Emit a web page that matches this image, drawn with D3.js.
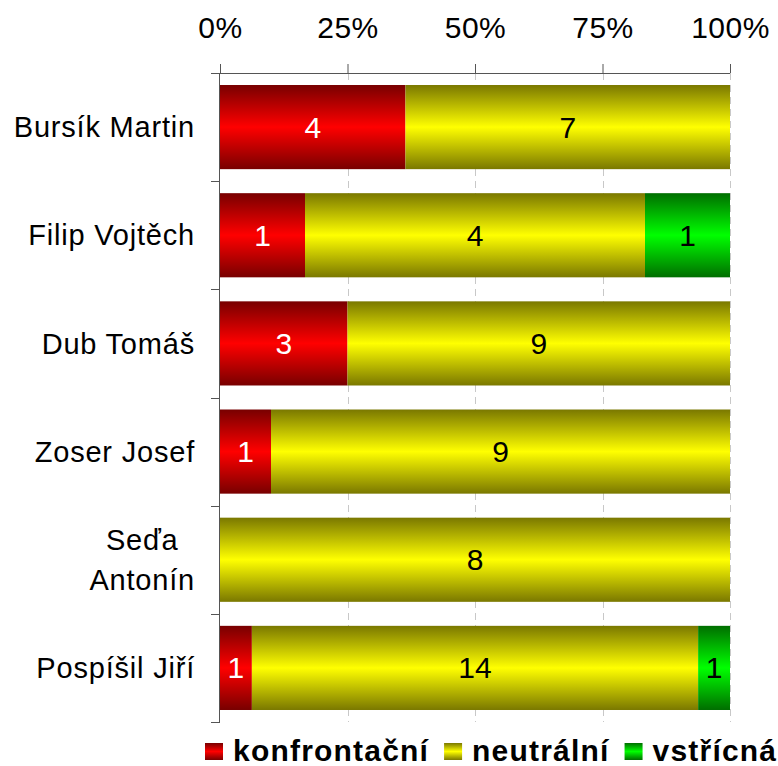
<!DOCTYPE html>
<html>
<head>
<meta charset="utf-8">
<script src="https://cdn.jsdelivr.net/npm/d3@7/dist/d3.min.js"></script>
<style>
  body { margin: 0; background: #fff; }
  svg { display: block; font-family: "Liberation Sans", Arial, sans-serif; }
</style>
</head>
<body>
<svg id="chart" width="778" height="766"></svg>
<script>
const categories = ['Bursík Martin', 'Filip Vojtěch', 'Dub Tomáš', 'Zoser Josef', 'Seďa\nAntonín', 'Pospíšil Jiří'];
const seriesNames = ['konfrontační', 'neutrální', 'vstřícná'];
const konfrontacni = [4, 1, 3, 1, 0, 1];
const neutralni = [7, 4, 9, 9, 8, 14];
const vstricna = [0, 1, 0, 0, 0, 1];
const tickValues = [0, 0.25, 0.5, 0.75, 1];

// dark edge / bright middle for each series
const colors = [
  { dark: '#780000', bright: '#ff0000', text: '#fff' },
  { dark: '#7a7800', bright: '#ffff00', text: '#000' },
  { dark: '#006e00', bright: '#00ff00', text: '#000' }
];

const rows = categories.map((c, i) => ({
  name: c,
  s0: konfrontacni[i],
  s1: neutralni[i],
  s2: vstricna[i]
}));

const svg = d3.select('#chart');
const margin = { top: 73, left: 220, right: 48, bottom: 44 };
const width = 778 - margin.left - margin.right;
const height = 766 - margin.top - margin.bottom;

const defs = svg.append('defs');
colors.forEach((c, i) => {
  const g = defs.append('linearGradient').attr('id', 'grad' + i)
    .attr('x1', 0).attr('y1', 0).attr('x2', 0).attr('y2', 1);
  g.append('stop').attr('offset', '0%').attr('stop-color', c.dark);
  g.append('stop').attr('offset', '50%').attr('stop-color', c.bright);
  g.append('stop').attr('offset', '100%').attr('stop-color', c.dark);
});

const x = d3.scaleLinear().domain([0, 1]).range([0, width]);
const y = d3.scaleBand().domain(categories).range([0, height]).paddingInner(0.222).paddingOuter(0.111);

const stack = d3.stack().keys(['s0', 's1', 's2']).offset(d3.stackOffsetExpand);
const series = stack(rows);

const plot = svg.append('g').attr('transform', `translate(${margin.left},${margin.top})`);

// dashed gridlines
plot.append('g').selectAll('line').data(tickValues.slice(1)).join('line')
  .attr('x1', d => Math.round(x(d)) + 0.5).attr('x2', d => Math.round(x(d)) + 0.5)
  .attr('y1', 0).attr('y2', height)
  .attr('stroke', '#c8c8c8').attr('stroke-dasharray', '7,5');

// bars
const layer = plot.append('g').selectAll('g').data(series).join('g')
  .attr('fill', (d, i) => `url(#grad${i})`);

layer.selectAll('rect').data(d => d).join('rect')
  .attr('x', d => x(d[0]))
  .attr('y', d => y(d.data.name))
  .attr('width', d => x(d[1]) - x(d[0]))
  .attr('height', y.bandwidth());

// value labels
series.forEach((s, i) => {
  plot.append('g').selectAll('text').data(s.filter(d => d.data[s.key] > 0)).join('text')
    .attr('x', d => (x(d[0]) + x(d[1])) / 2)
    .attr('y', d => y(d.data.name) + y.bandwidth() / 2)
    .attr('dy', '0.35em')
    .attr('text-anchor', 'middle')
    .attr('font-size', 30)
    .attr('fill', colors[i].text)
    .text(d => d.data[s.key]);
});

// top axis
const xAxis = plot.append('g')
  .call(d3.axisTop(x).tickValues(tickValues).tickFormat(d3.format('.0%')).tickSize(9).tickSizeOuter(0).tickPadding(26));
xAxis.select('.domain').attr('stroke', '#555').attr('d', `M-9,0.5H${width}`);
xAxis.selectAll('.tick line').attr('stroke', '#555');
xAxis.selectAll('.tick text').attr('font-size', 30).attr('letter-spacing', 0.5).attr('fill', '#000')
  .attr('font-family', '"Liberation Sans", Arial, sans-serif');

// left axis
const bandEdges = categories.map(c => y(c) - y.step() * y.paddingInner() / 2).concat([height]);
const yAxisG = plot.append('g');
yAxisG.append('line').attr('x1', -0.5).attr('x2', -0.5).attr('y1', 0).attr('y2', height).attr('stroke', '#555');
yAxisG.selectAll('line.tk').data(bandEdges.slice(1)).join('line').attr('class', 'tk')
  .attr('x1', -9).attr('x2', 0).attr('y1', d => Math.round(d) + 0.5).attr('y2', d => Math.round(d) + 0.5)
  .attr('stroke', '#555');

yAxisG.selectAll('text').data(categories).join('text')
  .attr('font-size', 29)
  .attr('letter-spacing', 0.8)
  .attr('fill', '#000')
  .each(function (c) {
    const lines = c.split('\n');
    const t = d3.select(this);
    const cy = y(c) + y.bandwidth() / 2;
    const lineH = 40;
    // right align block, center lines within it
    const tmp = t.text(lines.reduce((a, b) => a.length >= b.length ? a : b)).node().getComputedTextLength();
    t.text(null);
    const cx = -25 - tmp / 2;
    lines.forEach((l, k) => {
      t.append('tspan').attr('x', lines.length > 1 ? cx : -25)
        .attr('text-anchor', lines.length > 1 ? 'middle' : 'end')
        .attr('y', cy + (k - (lines.length - 1) / 2) * lineH)
        .attr('dy', '0.35em')
        .text(l);
    });
  });

// legend
const legend = svg.append('g').attr('transform', 'translate(0,750)');
let lx = 205;
seriesNames.forEach((n, i) => {
  const item = legend.append('g').attr('transform', `translate(${lx},0)`);
  item.append('rect').attr('x', 0).attr('y', -7).attr('width', 18).attr('height', 17).attr('fill', `url(#grad${i})`);
  const t = item.append('text').attr('x', 28).attr('dy', '0.35em')
    .attr('font-size', 30).attr('font-weight', 'bold').attr('letter-spacing', 1.2).attr('fill', '#000').text(n);
  lx += 28 + t.node().getComputedTextLength() + 15;
});
</script>
</body>
</html>
